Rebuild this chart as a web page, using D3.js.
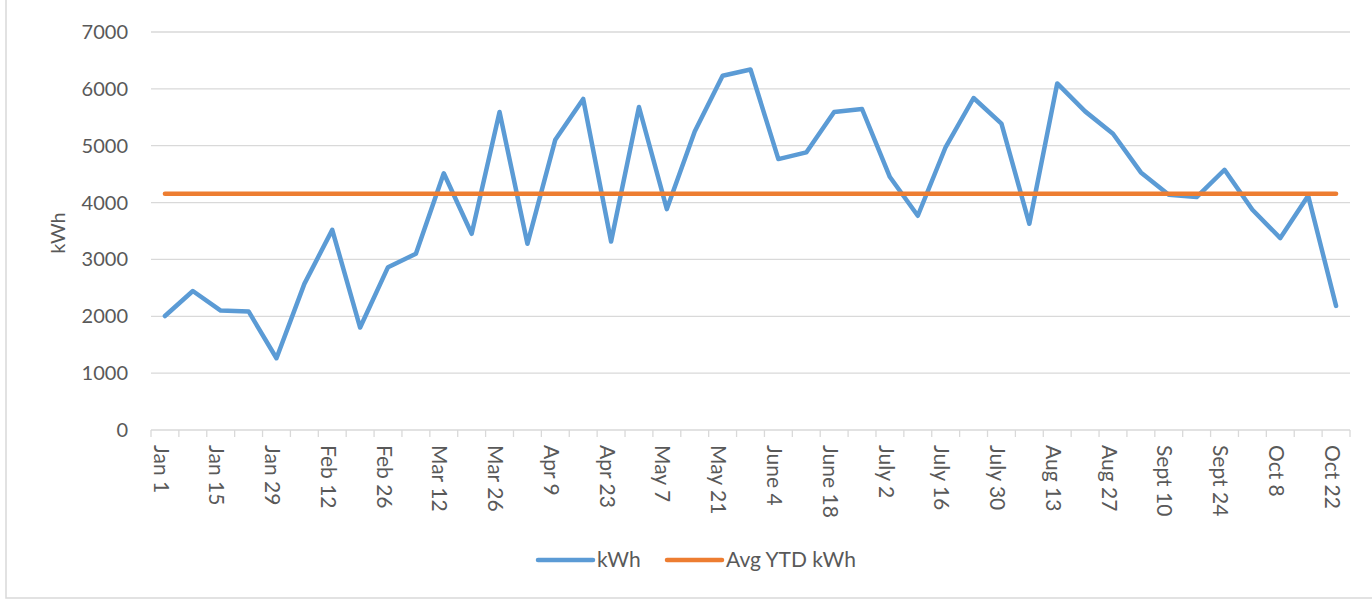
<!DOCTYPE html>
<html>
<head>
<meta charset="utf-8">
<script src="https://cdn.jsdelivr.net/npm/d3@7"></script>
<style>
    body { margin: 0; background: #fff; }
    svg { display: block; font-family: Lato, "Open Sans", sans-serif; }
</style>
</head>
<body>
<div id="chart"></div>
<script>
// weekly categories, Jan 1 .. Oct 22
const weeks = ["Jan 1", "Jan 8", "Jan 15", "Jan 22", "Jan 29", "Feb 5", "Feb 12", "Feb 19", "Feb 26",
    "Mar 5", "Mar 12", "Mar 19", "Mar 26", "Apr 2", "Apr 9", "Apr 16", "Apr 23", "Apr 30", "May 7",
    "May 14", "May 21", "May 28", "June 4", "June 11", "June 18", "June 25", "July 2", "July 9",
    "July 16", "July 23", "July 30", "Aug 6", "Aug 13", "Aug 20", "Aug 27", "Sept 3", "Sept 10",
    "Sept 17", "Sept 24", "Oct 1", "Oct 8", "Oct 15", "Oct 22"];
const kwh = [2005, 2445, 2100, 2085, 1262, 2570, 3520, 1802, 2864, 3099, 4515, 3451, 5593, 3275,
    5106, 5822, 3316, 5681, 3885, 5252, 6230, 6340, 4765, 4882, 5593, 5646, 4449, 3768, 4977, 5839,
    5387, 3627, 6095, 5604, 5211, 4531, 4137, 4096, 4577, 3873, 3375, 4120, 2183];
const avgYtd = 4155;
const yTicks = [0, 1000, 2000, 3000, 4000, 5000, 6000, 7000];

const W = 1372, H = 602;
const m = { left: 151, right: 1350, top: 32, bottom: 430 };

const svg = d3.select("#chart").append("svg")
    .attr("width", W)
    .attr("height", H);

// chart border
svg.append("rect")
    .attr("x", 6).attr("y", -2)
    .attr("width", W + 4).attr("height", 600)
    .style("fill", "none")
    .style("stroke", "#d9d9d9")
    .style("stroke-width", 1.5);

const x = d3.scaleBand().domain(weeks).range([m.left, m.right]);
const y = d3.scaleLinear().domain([0, 7000]).range([m.bottom, m.top]);
const cx = (d) => x(d) + x.bandwidth() / 2;

// gridlines
svg.append("g")
    .selectAll("line")
    .data(yTicks.slice(1))
    .join("line")
    .attr("x1", m.left).attr("x2", m.right)
    .attr("y1", d => y(d)).attr("y2", d => y(d))
    .style("stroke", "#d9d9d9")
    .style("stroke-width", 1.3);

// y labels
svg.append("g")
    .selectAll("text")
    .data(yTicks)
    .join("text")
    .attr("x", 128)
    .attr("y", d => y(d))
    .attr("dy", "0.35em")
    .attr("text-anchor", "end")
    .style("font-size", "20px")
    .style("fill", "#595959")
    .text(d => d);

svg.append("text")
    .attr("transform", "translate(65,233) rotate(-90)")
    .attr("text-anchor", "middle")
    .style("font-size", "20px")
    .style("fill", "#595959")
    .text("kWh");

// x axis line + ticks at category boundaries
const xa = svg.append("g");
xa.append("line")
    .attr("x1", m.left).attr("x2", m.right)
    .attr("y1", m.bottom).attr("y2", m.bottom)
    .style("stroke", "#d9d9d9")
    .style("stroke-width", 1.3);
xa.selectAll(".tk")
    .data(weeks.concat(["end"]))
    .join("line")
    .attr("class", "tk")
    .attr("x1", (d, i) => m.left + i * x.bandwidth())
    .attr("x2", (d, i) => m.left + i * x.bandwidth())
    .attr("y1", m.bottom).attr("y2", m.bottom + 7)
    .style("stroke", "#d9d9d9")
    .style("stroke-width", 1.3);

// every other week gets a label
xa.selectAll(".lbl")
    .data(weeks.filter((d, i) => i % 2 == 0))
    .join("text")
    .attr("class", "lbl")
    .attr("transform", d => "translate(" + (cx(d) - 4) + "," + (m.bottom + 15) + ") rotate(90)")
    .attr("dy", "0.35em")
    .style("font-size", "21px")
    .style("fill", "#595959")
    .text(d => d);

// series
const line = d3.line()
    .x((d, i) => cx(weeks[i]))
    .y(d => y(d));

svg.append("path")
    .datum(kwh)
    .attr("d", line)
    .style("fill", "none")
    .style("stroke", "#5b9bd5")
    .style("stroke-width", 4.5)
    .style("stroke-linejoin", "round")
    .style("stroke-linecap", "round");

svg.append("path")
    .datum(weeks.map(() => avgYtd))
    .attr("d", line)
    .style("fill", "none")
    .style("stroke", "#ed7d31")
    .style("stroke-width", 4.5)
    .style("stroke-linecap", "round");

// legend
const legend = [
    { name: "kWh", color: "#5b9bd5", x: 538 },
    { name: "Avg YTD kWh", color: "#ed7d31", x: 667 }
];
const lg = svg.append("g").selectAll("g").data(legend).join("g")
    .attr("transform", d => "translate(" + d.x + ",560)");
lg.append("line")
    .attr("x1", 0).attr("x2", 55)
    .style("stroke", d => d.color)
    .style("stroke-width", 4.5)
    .style("stroke-linecap", "round");
lg.append("text")
    .attr("x", 59)
    .attr("dy", "0.35em")
    .style("font-size", "21px")
    .style("fill", "#595959")
    .text(d => d.name);
</script>
</body>
</html>
